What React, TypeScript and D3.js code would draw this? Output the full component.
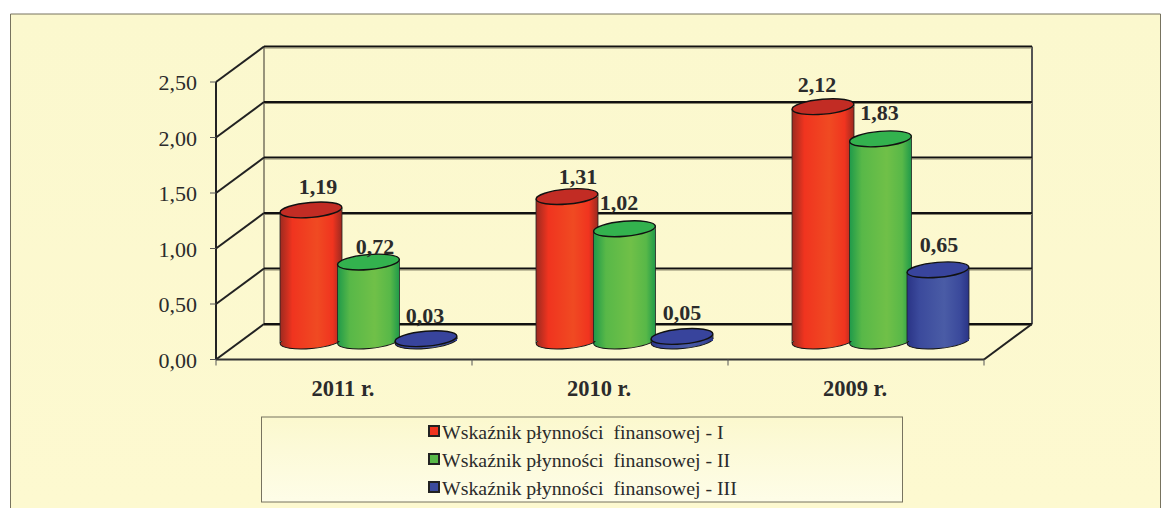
import React from "react";
import * as d3 from "d3";

const categories = ["2011 r.", "2010 r.", "2009 r."];
const seriesNames = ["Wskaźnik płynności  finansowej - I", "Wskaźnik płynności  finansowej - II", "Wskaźnik płynności  finansowej - III"];
const seriesI = [1.19, 1.31, 2.12];
const seriesII = [0.72, 1.02, 1.83];
const seriesIII = [0.03, 0.05, 0.65];
const yTicks = [0, 0.5, 1, 1.5, 2, 2.5];
const palettes = [
  { edge: "#9c2a20", main: "#f0341f", light: "#f04a22", top: "#c22c24" },
  { edge: "#1f9a4a", main: "#58b848", light: "#70c048", top: "#33b24e" },
  { edge: "#2a3486", main: "#3b4a9c", light: "#4a5ca6", top: "#38449c" },
];

const fmt = (v: number) => v.toFixed(2).replace(".", ",");
const FONT = "'Liberation Serif', serif";

export default function App() {
  const x = d3.scaleBand<string>().domain(categories).range([216, 984]);
  const y = d3.scaleLinear().domain([0, 2.5]).range([359.5, 82]);
  const dx = 48, dy = -35.5;
  const baseShift = -17.5;
  const rx = 31, ry = 7.5, tilt = -5;
  const offs = [95, 152.5, 210];
  // label nudges per [category][series], as placed by hand in the original
  const labelDx = [[7, 6.5, -1], [11, -5.5, 0], [-6, -1, 1]];
  const labelDy = [[-16, -8, -16], [-13, -19, -16], [-15, -19, -18]];
  const all = [seriesI, seriesII, seriesIII];
  const frontR = x.range()[1];
  const frontL = x.range()[0];
  const y0 = y(0);

  return (
    <svg width={1171} height={508} style={{ position: "absolute", left: 0, top: 0 }} fontFamily={FONT}>
      <defs>
        <linearGradient id="bg" x1="0" y1="0" x2="0" y2="1">
          <stop offset="0" stopColor="#fbf8ce" />
          <stop offset="1" stopColor="#fdf9d0" />
        </linearGradient>
        <linearGradient id="leg" x1="0" y1="0" x2="0" y2="1">
          <stop offset="0" stopColor="#fbf8ce" />
          <stop offset="1" stopColor="#fefde8" />
        </linearGradient>
        {palettes.map((p, i) => (
          <linearGradient key={i} id={`cyl${i}`} x1="0" y1="0" x2="1" y2="0">
            <stop offset="0" stopColor={p.edge} />
            <stop offset="0.2" stopColor={p.main} />
            <stop offset="0.6" stopColor={p.light} />
            <stop offset="0.85" stopColor={p.main} />
            <stop offset="1" stopColor={p.edge} />
          </linearGradient>
        ))}
      </defs>
      <rect x={0} y={0} width={1171} height={508} fill="#fff" />
      <path d="M10.5 508V14H1160.5V508" fill="url(#bg)" stroke="#77735f" strokeWidth={1} />

      {/* walls */}
      <line x1={frontL + dx} x2={frontL + dx} y1={y(2.5) + dy} y2={y0 + dy} stroke="#77735f" strokeWidth={1.5} />
      <line x1={frontR + dx} x2={frontR + dx} y1={y(2.5) + dy} y2={y0 + dy} stroke="#555" strokeWidth={2} />
      <line x1={frontL} x2={frontL} y1={y(2.5)} y2={y0} stroke="#222" strokeWidth={2} />
      {yTicks.map((t) => (
        <g key={t}>
          <line x1={frontL + dx} x2={frontR + dx} y1={y(t) + dy} y2={y(t) + dy} stroke="#111" strokeWidth={2} />
          <line x1={frontL + dx} x2={frontR + dx} y1={y(t) + dy + 1.5} y2={y(t) + dy + 1.5} stroke="#8a866c" strokeWidth={1} />
          <line x1={frontL} x2={frontL + dx} y1={y(t)} y2={y(t) + dy} stroke="#222" strokeWidth={2} />
          <line x1={frontL - 6} x2={frontL} y1={y(t)} y2={y(t)} stroke="#555" strokeWidth={1} />
          <text x={197} y={y(t) + 8} textAnchor="end" fontSize={22} fill="#2b2b2b">{fmt(t)}</text>
        </g>
      ))}
      <line x1={frontR} x2={frontR + dx} y1={y0} y2={y0 + dy} stroke="#222" strokeWidth={2} />
      <line x1={frontL} x2={frontR} y1={y0} y2={y0} stroke="#333" strokeWidth={2} />
      {d3.range(categories.length + 1).map((i) => {
        const tx = frontL + x.step() * i;
        return <line key={i} x1={tx} x2={tx} y1={y0} y2={y0 + 6} stroke="#555" strokeWidth={1} />;
      })}
      {categories.map((c) => (
        <text key={c} x={x(c)! + x.bandwidth() / 2 - 1} y={396} textAnchor="middle" fontSize={22.5} fontWeight="bold" fill="#2b2b2b">{c}</text>
      ))}

      {/* cylinders */}
      {categories.map((c, ci) => (
        <g key={c}>
          {all.map((s, si) => {
            const v = s[ci];
            const cx = x(c)! + offs[si];
            const by = y0 + baseShift - 1;
            const ty = y(v) + baseShift;
            const rot = (yy: number) => `rotate(${tilt} ${cx} ${yy})`;
            return (
              <g key={si}>
                <ellipse cx={cx} cy={by} rx={rx} ry={ry} transform={rot(by)} fill={`url(#cyl${si})`} stroke="#111" strokeWidth={1} />
                <rect x={cx - rx} y={ty} width={rx * 2} height={Math.max(by - ty, 0)} fill={`url(#cyl${si})`} />
                <line x1={cx - rx} x2={cx - rx} y1={ty + 2} y2={by + 2} stroke="#222" strokeWidth={0.8} />
                <line x1={cx + rx} x2={cx + rx} y1={ty - 2} y2={by - 2} stroke="#222" strokeWidth={0.8} />
                <ellipse cx={cx} cy={ty} rx={rx} ry={ry} transform={rot(ty)} fill={palettes[si].top} stroke="#111" strokeWidth={1.4} />
              </g>
            );
          })}
          {all.map((s, si) => (
            <text key={si} x={x(c)! + offs[si] + labelDx[ci][si]} y={y(s[ci]) + baseShift + labelDy[ci][si]} textAnchor="middle" fontSize={22} fontWeight="bold" fill="#2b2b2b">{fmt(s[ci])}</text>
          ))}
        </g>
      ))}

      {/* legend */}
      <rect x={261.5} y={417} width={641} height={85} fill="url(#leg)" stroke="#77735f" strokeWidth={1} />
      {seriesNames.map((n, i) => (
        <g key={n}>
          <rect x={429} y={426 + i * 28} width={10} height={10} fill={palettes[i].main} stroke="#222" strokeWidth={2} />
          <text x={442} y={439 + i * 28} fontSize={19.85} fill="#2b2b2b" xmlSpace="preserve">{n}</text>
        </g>
      ))}
    </svg>
  );
}
